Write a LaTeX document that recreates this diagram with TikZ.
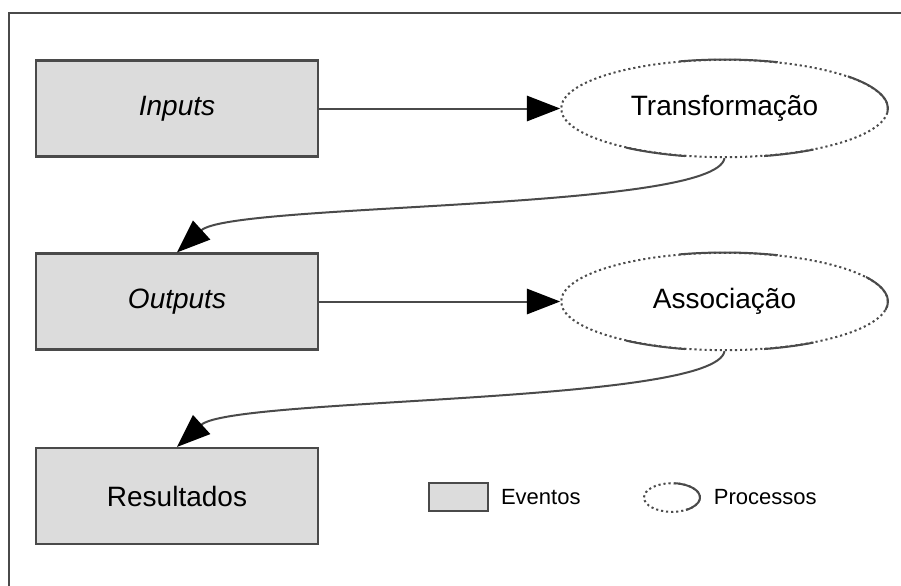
\documentclass[tikz,border=0pt]{standalone}
\usepackage{fontspec}
\setmainfont{Liberation Sans}
\usepackage{tikz}
\usetikzlibrary{arrows.meta,positioning,shapes.geometric}

\definecolor{evfill}{HTML}{DCDCDC}
\definecolor{edge}{HTML}{4A4A4A}

\tikzset{
  evento/.style={draw=edge, line width=1.6pt, fill=evfill, minimum width=211pt, minimum height=72pt, inner sep=0pt, font=\fontsize{21}{25}\selectfont},
  processo/.style={ellipse, draw=edge, line width=1.5pt, dash pattern=on 1.6pt off 2.2pt, minimum width=245pt, minimum height=73pt, inner sep=0pt, font=\fontsize{21}{25}\selectfont},
  fluxo/.style={draw=edge, line width=1.5pt, -{Triangle[length=25pt,width=19pt,color=black]}},
  parte/.style={draw=edge, line width=1.5pt, solid},
  legenda/.style={font=\fontsize{16.5}{20}\selectfont, inner sep=0pt}
}

\begin{document}
\begin{tikzpicture}[x=0.75pt, y=-0.75pt]
\useasboundingbox (0,0) rectangle (901,586);

% moldura
\draw[edge, line width=1.5pt] (9,590) -- (9,13) -- (905,13);

% eventos
\node[evento] (inputs) at (177,108.5) {\itshape Inputs};
\node[evento] (outputs) at (177,301.5) {\itshape Outputs};
\node[evento] (result) at (177,496) {Resultados};

% processos
\node[processo] (transf) at (724.5,108.5) {Transformação};
\node[processo] (assoc) at (724.5,301.5) {Associação};

% trechos continuos das elipses
\draw[parte] (transf.center) ++(106:122.6pt and 36.75pt) arc[start angle=106, end angle=71, x radius=122.6pt, y radius=36.75pt];
\draw[parte] (transf.center) ++(41:122.6pt and 36.75pt) arc[start angle=41, end angle=-5, x radius=122.6pt, y radius=36.75pt];
\draw[parte] (transf.center) ++(233:122.6pt and 36.75pt) arc[start angle=233, end angle=256, x radius=122.6pt, y radius=36.75pt];
\draw[parte] (transf.center) ++(284:122.6pt and 36.75pt) arc[start angle=284, end angle=303, x radius=122.6pt, y radius=36.75pt];

\draw[parte] (assoc.center) ++(106:122.6pt and 36.75pt) arc[start angle=106, end angle=71, x radius=122.6pt, y radius=36.75pt];
\draw[parte] (assoc.center) ++(30:122.6pt and 36.75pt) arc[start angle=30, end angle=-10, x radius=122.6pt, y radius=36.75pt];
\draw[parte] (assoc.center) ++(233:122.6pt and 36.75pt) arc[start angle=233, end angle=256, x radius=122.6pt, y radius=36.75pt];
\draw[parte] (assoc.center) ++(284:122.6pt and 36.75pt) arc[start angle=284, end angle=303, x radius=122.6pt, y radius=36.75pt];

% ligacoes
\draw[fluxo] (inputs.east) -- (transf.west);
\draw[fluxo] (outputs.east) -- (assoc.west);
\draw[fluxo] (transf.south) .. controls +(-9,53) and +(55,-50) .. (outputs.north);
\draw[fluxo] (assoc.south) .. controls +(-9,53) and +(55,-50) .. (result.north);

% legenda
\node[evento, minimum width=44pt, minimum height=21pt, line width=1.4pt] (legbox) at (458.5,497) {};
\node[legenda, right=9pt of legbox] (legev) {Eventos};
\node[processo, minimum width=42pt, minimum height=21.5pt] (legell) at (672,497.5) {};
\draw[parte] (legell.center) ++(85:21pt and 10.75pt) arc[start angle=85, end angle=-60, x radius=21pt, y radius=10.75pt];
\node[legenda, right=9.5pt of legell] (legproc) {Processos};

\end{tikzpicture}
\end{document}
